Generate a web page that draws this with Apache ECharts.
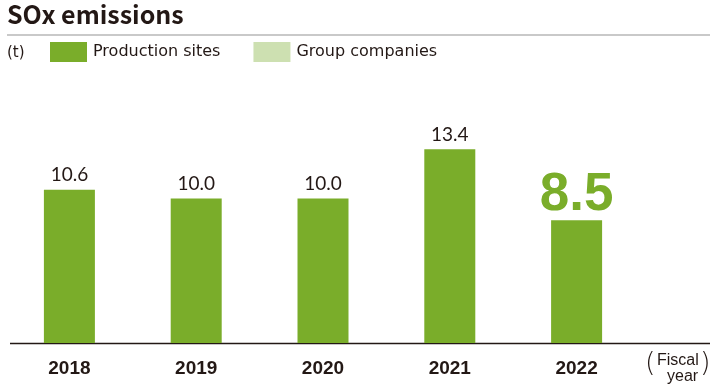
<!DOCTYPE html>
<html><head><meta charset="utf-8">
<script src="https://cdn.jsdelivr.net/npm/echarts@6/dist/echarts.min.js"></script>
<style>html,body{margin:0;padding:0;background:#fff}#c{width:710px;height:385px}</style>
</head><body><div id="c"></div>
<script>
const categories = ['2018','2019','2020','2021','2022'];
const productionSites = [10.6, 10.0, 10.0, 13.4, 8.5];
const groupCompanies = [null, null, null, null, null];
const valueLabels = ['10.6','10.0','10.0','13.4','8.5'];

const green = '#7aad2a';
const lightGreen = '#cde0b1';
const textColor = '#231815';

const chart = echarts.init(document.getElementById('c'));
const last = productionSites.length - 1;
chart.setOption({
  animation: false,
  title: {
    text: 'SOx emissions', left: 2, top: -3,
    textStyle: {fontFamily: 'Noto Sans CJK JP', fontWeight: 'bold', fontSize: 25, color: textColor}
  },
  graphic: [
    {type: 'line', shape: {x1: 7, y1: 35, x2: 710, y2: 35}, style: {stroke: '#c9c9c9', lineWidth: 2}},
    {type: 'line', shape: {x1: 10, y1: 343.5, x2: 710, y2: 343.5}, style: {stroke: textColor, lineWidth: 1.5}},
    {type: 'text', left: 7, top: 46, style: {text: '(t)', fontFamily: 'DejaVu Sans', fontSize: 15, fill: textColor}},
    {type: 'text', left: 645, top: 350, style: {text: '(', fontFamily: 'DejaVu Sans', fontSize: 27, fill: textColor, fontWeight: 200}},
    {type: 'text', left: 700, top: 350, style: {text: ')', fontFamily: 'DejaVu Sans', fontSize: 27, fill: textColor, fontWeight: 200}},
    {type: 'text', left: 657, top: 353, style: {text: 'Fiscal', fontFamily: 'Liberation Sans', fontSize: 16, fill: textColor}},
    {type: 'text', left: 667, top: 369, style: {text: 'year', fontFamily: 'Liberation Sans', fontSize: 16, fill: textColor}}
  ],
  legend: {
    left: 45, top: 37, itemWidth: 37, itemHeight: 20, itemGap: 33,
    icon: 'rect',
    textStyle: {fontFamily: 'DejaVu Sans', fontSize: 16, color: textColor, padding: [0,0,0,1]},
    data: ['Production sites', 'Group companies']
  },
  grid: {left: 6, right: 70, top: 54, bottom: 42},
  xAxis: {
    type: 'category', data: categories,
    axisLine: {show: false}, axisTick: {show: false},
    axisLabel: {fontFamily: 'Liberation Sans', fontWeight: 'bold', fontSize: 19, color: textColor, margin: 16}
  },
  yAxis: {type: 'value', min: 0, max: 20, show: false, splitLine: {show: false}},
  series: [
    {
      name: 'Production sites', type: 'bar', stack: 's', barWidth: 51,
      itemStyle: {color: green},
      data: productionSites.map((v, i) => i === last ? {
        value: v,
        label: {fontSize: 53, fontWeight: 'bold', color: green, fontFamily: 'Liberation Sans', distance: -2}
      } : v),
      label: {
        show: true, position: 'top', distance: 5,
        fontFamily: 'Lato', fontSize: 19, color: textColor,
        formatter: p => valueLabels[p.dataIndex]
      }
    },
    {name: 'Group companies', type: 'bar', stack: 's', itemStyle: {color: lightGreen}, data: groupCompanies}
  ]
});
</script></body></html>
